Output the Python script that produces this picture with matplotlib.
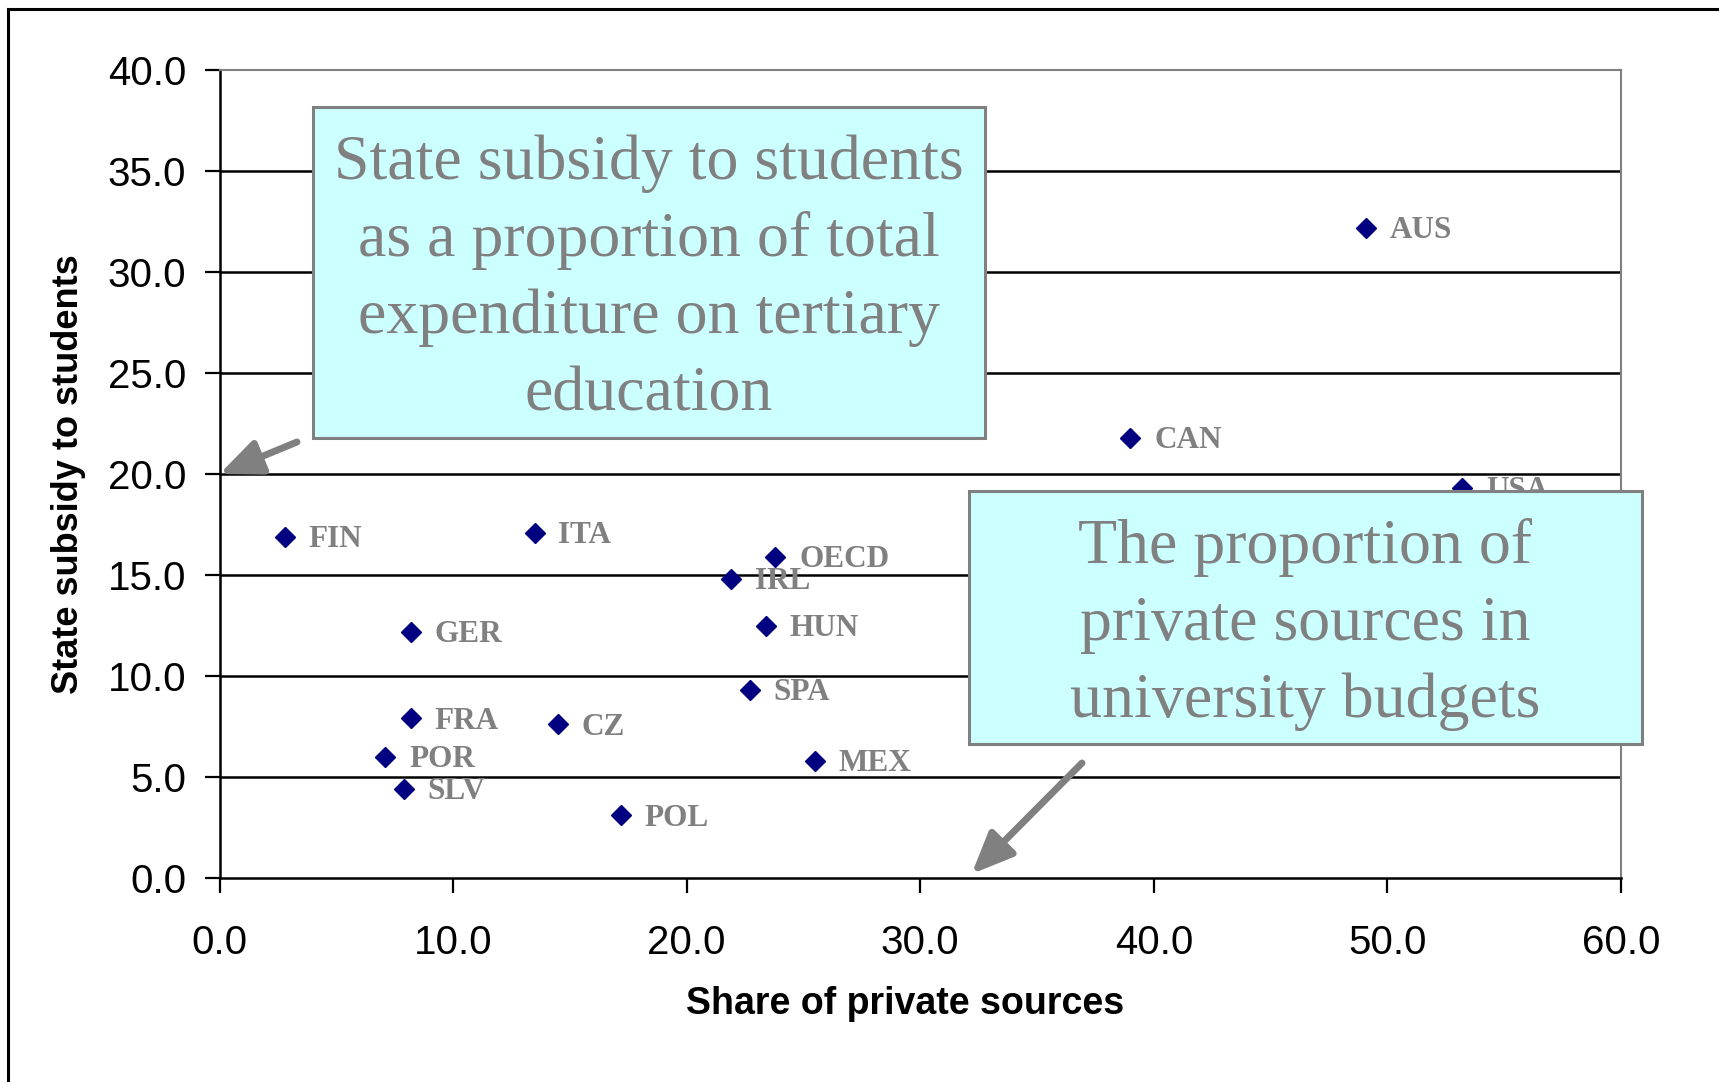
import matplotlib
matplotlib.use("Agg")
import matplotlib.pyplot as plt
from matplotlib.patches import Rectangle
from matplotlib.lines import Line2D

# data
countries = ["FIN", "ITA", "OECD", "IRL", "HUN", "GER", "SPA", "FRA", "CZ",
             "POR", "SLV", "POL", "MEX", "CAN", "AUS", "USA"]
private_share = [2.8, 13.5, 23.8, 21.9, 23.4, 8.2, 22.7, 8.2, 14.5,
                 7.1, 7.9, 17.2, 25.5, 39.0, 49.1, 53.2]
subsidy = [16.9, 17.1, 15.9, 14.8, 12.5, 12.2, 9.3, 7.9, 7.6,
           6.0, 4.4, 3.1, 5.8, 21.8, 32.2, 19.3]

x_ticks = [0, 10, 20, 30, 40, 50, 60]
y_ticks = [0, 5, 10, 15, 20, 25, 30, 35, 40]

box1_lines = ["State subsidy to students", "as a proportion of total",
              "expenditure on tertiary", "education"]
box2_lines = ["The proportion of", "private sources in", "university budgets"]

W, H = 1719, 1082
GREY = "#808080"
SANS = "Liberation Sans"
SERIF = "Liberation Serif"


def fx(px):
    return px / W


def fy(py):
    return 1 - py / H


fig = plt.figure(figsize=(W / 100, H / 100), dpi=100)
fig.patch.set_facecolor("white")

# plot area
ax = fig.add_axes([fx(219.5), fy(878), (1621 - 219.5) / W, (878 - 70) / H])
ax.set_xlim(0, 60)
ax.set_ylim(0, 40)
ax.set_xticks(x_ticks)
ax.set_yticks(y_ticks)
ax.set_xticklabels([f"{v:.1f}" for v in x_ticks], fontfamily=SANS, fontsize=29)
ax.set_yticklabels([f"{v:.1f}" for v in y_ticks], fontfamily=SANS, fontsize=29)
ax.tick_params(axis="x", direction="out", length=11, width=1.6, pad=22)
ax.tick_params(axis="y", direction="out", length=11, width=1.6, pad=13)

for yv in y_ticks[1:-1]:
    ax.axhline(yv, color="black", lw=1.8, zorder=1)

ax.spines["left"].set_color("black")
ax.spines["bottom"].set_color("black")
ax.spines["left"].set_linewidth(1.8)
ax.spines["bottom"].set_linewidth(1.8)
ax.spines["top"].set_color(GREY)
ax.spines["right"].set_color(GREY)
ax.spines["top"].set_linewidth(1.5)
ax.spines["right"].set_linewidth(1.5)

ax.set_xlabel("Share of private sources", fontfamily=SANS, fontsize=27,
              fontweight="bold", va="center")
ax.xaxis.set_label_coords((905 - 219.5) / 1401.5, (878 - 1004) / 808)
ax.set_ylabel("State subsidy to students", fontfamily=SANS, fontsize=26,
              fontweight="bold", va="center", ha="center")
ax.yaxis.set_label_coords((69 - 219.5) / 1401.5, 0.5)

# points and labels
ax.plot(private_share, subsidy, linestyle="none", marker="D", markersize=10,
        color="#000080", zorder=3, clip_on=False)
for name, xv, yv in zip(countries, private_share, subsidy):
    ax.annotate(name, (xv, yv), xytext=(17, -2), textcoords="offset points",
                fontfamily=SERIF, fontweight="bold", fontsize=22.5, color=GREY,
                ha="left", va="center", zorder=3)

# arrows
arrow_style = dict(arrowstyle="-|>,head_length=1.4,head_width=0.6",
                   mutation_scale=18, lw=5, color=GREY, shrinkA=0, shrinkB=0)
ax.annotate("", xy=(0, 20), xytext=(297, H - 442), textcoords="figure pixels",
            arrowprops=arrow_style, annotation_clip=False, zorder=4)
ax.annotate("", xy=(32.2, 0.2), xytext=(1082, H - 763), textcoords="figure pixels",
            arrowprops=arrow_style, annotation_clip=False, zorder=4)


# text boxes
def text_box(x0, y0, x1, y1, lines, pitch):
    fig.add_artist(Rectangle((fx(x0), fy(y1)), (x1 - x0) / W, (y1 - y0) / H,
                             transform=fig.transFigure, facecolor="#CCFFFF",
                             edgecolor=GREY, lw=2.2, zorder=5))
    cx = (x0 + x1) / 2
    cy = (y0 + y1) / 2 + 7
    first = cy - pitch * (len(lines) - 1) / 2
    for i, line in enumerate(lines):
        fig.text(fx(cx), fy(first + i * pitch), line, fontfamily=SERIF,
                 fontsize=46, color=GREY, ha="center", va="center", zorder=6)


text_box(313, 107, 985, 438, box1_lines, 77)
text_box(969, 491, 1642, 744, box2_lines, 77)

# outer frame (top and left edges)
fig.add_artist(Line2D([fx(8), 1], [fy(9), fy(9)], transform=fig.transFigure,
                      color="black", lw=2.2))
fig.add_artist(Line2D([fx(8), fx(8)], [0, fy(9)], transform=fig.transFigure,
                      color="black", lw=2.2))

fig.savefig("out.png", dpi=100)
